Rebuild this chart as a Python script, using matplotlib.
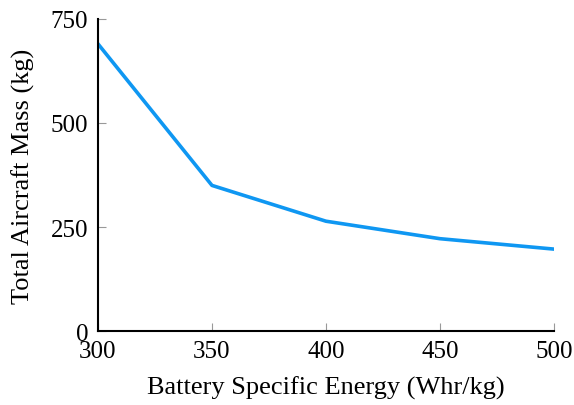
import numpy as np
import matplotlib
matplotlib.use("Agg")
import matplotlib.pyplot as plt

plt.rcParams['font.family'] = ['Liberation Serif', 'DejaVu Serif']

energy = [300, 350, 400, 450, 500]
mass = [690, 350, 264, 222, 197]
xticks = [300, 350, 400, 450, 500]
yticks = [0, 250, 500, 750]

fig = plt.figure(figsize=(5.74, 4.06), dpi=100)
ax = fig.add_axes([0.1707, 0.182, 0.7943, 0.769])

ax.plot(energy, mass, color='#0f97f2', linewidth=2.6)

ax.set_xlim(300, 500)
ax.set_ylim(0, 750)
ax.set_xticks(xticks)
ax.set_yticks(yticks)

for s in ['top', 'right']:
    ax.spines[s].set_visible(False)
for s in ['left', 'bottom']:
    ax.spines[s].set_linewidth(1.5)
    ax.spines[s].set_color('black')

ax.tick_params(direction='in', length=6, width=0.8, color='#999999', labelsize=18)
ax.tick_params(axis='x', pad=6.5)
ax.tick_params(axis='y', pad=7)

ax.set_xlabel('Battery Specific Energy (Whr/kg)', fontsize=19, labelpad=9.5)
ax.set_ylabel('Total Aircraft Mass (kg)', fontsize=19, labelpad=11)

fig.savefig('out.png', dpi=100)
